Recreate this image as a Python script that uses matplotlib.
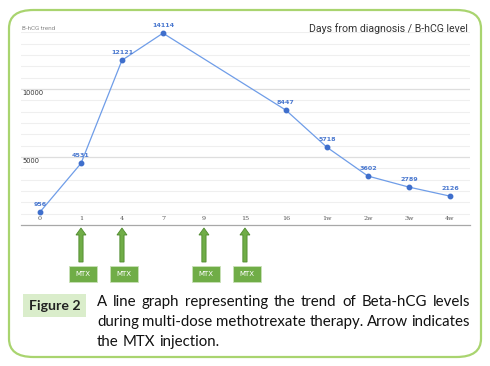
import numpy as np
import matplotlib
matplotlib.use("Agg")
import matplotlib.pyplot as plt
from matplotlib.patches import FancyBboxPatch, FancyArrow, Rectangle
from matplotlib.transforms import blended_transform_factory

# ---- data ----
categories = ['0', '1', '4', '7', '9', '15', '16', '1w', '2w', '3w', '4w']
hcg_values = [956, 4531, 12121, 14114, None, None, 8447, 5718, 3602, 2789, 2126]
mtx_days = ['1', '4', '9', '15']
y_labels = [5000, 10000]
caption_title = "Figure 2"
caption_lines = ["A line graph representing the trend of Beta-hCG levels",
                 "during multi-dose methotrexate therapy. Arrow indicates",
                 "the MTX injection."]

W, H = 490, 366
fig = plt.figure(figsize=(W / 100, H / 100), dpi=100)
fig.patch.set_facecolor('white')

# green rounded border
border = FancyBboxPatch((9 / W, 1 - 357 / H), (481 - 9) / W, (357 - 10) / H,
                        boxstyle="round,pad=0,rounding_size=0.05",
                        transform=fig.transFigure, fc='none', ec='#a9d46f', lw=1.6)
fig.patches.append(border)

# axes
left, right, top, bottom = 21, 470, 32, 225
ax = fig.add_axes([left / W, 1 - bottom / H, (right - left) / W, (bottom - top) / H])
ax.set_facecolor('none')
x_idx = np.arange(len(categories))
ax.set_xlim(-0.463, 10.49)
ax.set_ylim(0, 14200)

ax.set_yticks(y_labels)
ax.set_yticks(np.arange(0, 14200, 5000 / 6), minor=True)
ax.grid(True, axis='y', which='minor', color='#efefef', lw=0.8)
ax.grid(True, axis='y', which='major', color='#dedede', lw=0.9)
ax.set_axisbelow(True)
ax.tick_params(axis='both', which='both', length=0, labelleft=False, labelbottom=False)
ax.set_xticks([])
for s in ['top', 'left', 'right']:
    ax.spines[s].set_visible(False)
ax.spines['bottom'].set_color('#a8a8a8')
ax.spines['bottom'].set_linewidth(0.9)

xs = [i for i, v in zip(x_idx, hcg_values) if v is not None]
ys = [v for v in hcg_values if v is not None]
ax.plot(xs, ys, color='#6f9de8', lw=0.9, marker='o', ms=3.2,
        mfc='#3f6fcc', mec='#3f6fcc', zorder=3, clip_on=False)
for x, y in zip(xs, ys):
    ax.annotate(str(y), (x, y), xytext=(0, 8), textcoords='offset pixels',
                ha='center', va='center', fontsize=4.6, color='#4a78cf',
                fontfamily='DejaVu Sans', fontweight='bold')

# y labels (inside, below gridline)
for v in y_labels:
    ax.annotate(str(v), (0, v), xycoords=('axes fraction', 'data'),
                xytext=(1, -4), textcoords='offset pixels',
                ha='left', va='center', fontsize=4.8, color='#333333',
                fontfamily='DejaVu Sans')

# x labels (inside, above axis)
for i, c in enumerate(categories):
    ax.annotate(c, (i, 0), xycoords=('data', 'axes fraction'),
                xytext=(0, 7), textcoords='offset pixels',
                ha='center', va='center', fontsize=4.6, color='#555555',
                fontfamily='DejaVu Serif')

ax.text(0.003, 1.02, "B-hCG trend", transform=ax.transAxes, fontsize=4.5,
        color='#8a8a8a', ha='left', va='center', fontfamily='Roboto')
fig.text(468 / W, 1 - 29 / H, "Days from diagnosis / B-hCG level", fontsize=7.6,
         color='#333333', ha='right', va='center', fontfamily='Roboto')

# MTX arrows and boxes
btrans = blended_transform_factory(ax.transData, fig.transFigure)
green = '#70ad47'
for d in mtx_days:
    xi = categories.index(d)
    arr = FancyArrow(xi, 1 - 262 / H, 0, (262 - 228) / H, width=4.2 / 41,
                     head_width=10 / 41, head_length=7 / H, length_includes_head=True,
                     transform=btrans, fc=green, ec='#4f8a2e', lw=0.6, clip_on=False)
    fig.patches.append(arr)
    bw, bh = 28, 16
    box = Rectangle((xi + (2 - bw / 2) / 41, 1 - 282 / H), bw / 41, bh / H,
                    transform=btrans, fc=green, ec='#c9e2b8', lw=0.6, clip_on=False)
    fig.patches.append(box)
    fig.text(0, 0, "MTX", transform=btrans, fontsize=5, color='white',
             ha='center', va='center', fontfamily='DejaVu Sans').set_position(
        (xi + 2 / 41, 1 - 274 / H))

# caption
cap_box = Rectangle((23 / W, 1 - 317 / H), (86 - 23) / W, (317 - 294) / H,
                    transform=fig.transFigure, fc='#daedcb', ec='none')
fig.patches.append(cap_box)
fig.text(54.5 / W, 1 - 306 / H, caption_title, fontsize=10.2, fontweight='bold',
         color='#222222', ha='center', va='center', fontfamily='Lato')

renderer = fig.canvas.get_renderer()
x0, x1 = 97, 470
baselines = [306, 326, 346]
cap_fs = 10.8
for li, (line, yb) in enumerate(zip(caption_lines, baselines)):
    words = line.split(' ')
    texts = [fig.text(0, 0, w, fontsize=cap_fs, color='#111111', va='baseline',
                      ha='left', fontfamily='Lato') for w in words]
    widths = [t.get_window_extent(renderer).width for t in texts]
    if li < len(caption_lines) - 1:
        gap = (x1 - x0 - sum(widths)) / (len(words) - 1)
    else:
        sp = fig.text(0, 0, 'a a', fontsize=cap_fs, fontfamily='Lato')
        spw = sp.get_window_extent(renderer).width
        sp2 = fig.text(0, 0, 'aa', fontsize=cap_fs, fontfamily='Lato')
        gap = spw - sp2.get_window_extent(renderer).width
        sp.remove(); sp2.remove()
    x = x0
    for t, w in zip(texts, widths):
        t.set_position((x / W, 1 - yb / H))
        x += w + gap

fig.savefig('out.png', dpi=100, facecolor='white')
